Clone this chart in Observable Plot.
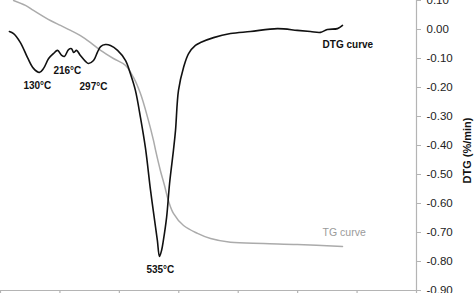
<!DOCTYPE html>
<html>
<head>
<meta charset="utf-8">
<script src="https://cdn.jsdelivr.net/npm/d3@7"></script>
<script src="https://cdn.jsdelivr.net/npm/@observablehq/plot@0.6"></script>
<style>
  html, body { margin: 0; padding: 0; background: #fff; }
  #chart svg { display: block; }
</style>
</head>
<body>
<div id="chart"></div>
<script>
// DTG curve: temperature (°C) and rate (%/min)
const dtgTemp = [30, 44, 67, 91, 111, 131, 145, 162, 178, 192, 205, 215, 229, 239, 246, 256, 269, 286, 296, 313, 326, 337, 353, 370, 394, 421, 437, 454, 471, 488, 505, 522, 528, 535, 542, 548, 559, 569, 582, 589, 599, 616, 633, 656, 673, 717, 774, 841, 932, 999, 1043, 1077, 1100, 1134, 1151];
const dtgVal  = [-0.007, -0.014, -0.045, -0.097, -0.134, -0.148, -0.134, -0.100, -0.083, -0.072, -0.088, -0.093, -0.069, -0.066, -0.079, -0.072, -0.090, -0.110, -0.117, -0.107, -0.079, -0.059, -0.052, -0.055, -0.072, -0.107, -0.152, -0.210, -0.303, -0.410, -0.555, -0.683, -0.728, -0.783, -0.762, -0.728, -0.648, -0.531, -0.417, -0.348, -0.210, -0.131, -0.083, -0.055, -0.045, -0.028, -0.014, -0.007, 0.003, -0.003, -0.007, -0.010, 0.000, 0.003, 0.014];

// TG curve: temperature (°C) and remaining mass (%)
const tgTemp = [44, 84, 111, 168, 202, 236, 269, 303, 337, 380, 421, 448, 471, 495, 515, 522, 538, 552, 565, 582, 616, 663, 707, 774, 885, 999, 1151];
const tgMass = [100, 98.3, 96.6, 93.1, 91.4, 89.7, 87.9, 85.5, 82.8, 80.0, 77.6, 73.4, 67.9, 59.7, 51.7, 48.3, 41.4, 36.2, 31.0, 26.6, 22.4, 19.7, 17.9, 16.6, 16.2, 15.9, 15.2];

// Peak annotations
const peakLabels = ["130°C", "216°C", "297°C", "535°C"];
const peakLabelTemp = [124, 225, 313, 538];
const peakLabelVal = [-0.193, -0.141, -0.197, -0.828];

// Curve labels
const curveLabels = ["DTG curve", "TG curve"];
const curveLabelTemp = [1084, 1084];
const curveLabelVal = [-0.052, -0.700];

const yTicks = [0.1, 0, -0.1, -0.2, -0.3, -0.4, -0.5, -0.6, -0.7, -0.8, -0.9];
const xTicks = [0, 200, 400, 600, 800, 1000, 1200, 1400];
const yLabel = "DTG (%/min)";

// TG (%) plotted against the hidden left axis, mapped onto the DTG frame
const tgToFrame = d3.scaleLinear().domain([0, 100]).range([-0.9, 0.1]);

const dtg = dtgTemp.map((t, i) => ({t, v: dtgVal[i]}));
const tg = tgTemp.map((t, i) => ({t, v: tgToFrame(tgMass[i])}));
const peaks = peakLabels.map((s, i) => ({s, t: peakLabelTemp[i], v: peakLabelVal[i]}));

const font = "'Liberation Sans', Arial, Helvetica, sans-serif";

const chart = Plot.plot({
  width: 474,
  height: 293,
  marginLeft: 0,
  marginRight: 58,
  marginTop: 0,
  marginBottom: 3,
  style: {fontFamily: font, background: "#fff", overflow: "visible"},
  x: {type: "linear", domain: [0, 1400]},
  y: {type: "linear", domain: [-0.9, 0.1]},
  marks: [
    Plot.ruleY([-0.9], {stroke: "#b4b4b4", strokeWidth: 1.2}),
    Plot.ruleX([1400], {stroke: "#b4b4b4", strokeWidth: 1.2}),
    Plot.axisX({ticks: xTicks, tickFormat: () => "", tickSize: 4, stroke: "#b4b4b4", strokeWidth: 1.2, label: null}),
    Plot.axisY({anchor: "right", ticks: yTicks, tickFormat: d => d.toFixed(2), tickSize: 4, tickPadding: 6, stroke: "#b4b4b4", fill: "#222", fontSize: 11.5, label: null}),
    Plot.line(tg, {x: "t", y: "v", stroke: "#ababab", strokeWidth: 1.5, curve: "catmull-rom"}),
    Plot.line(dtg, {x: "t", y: "v", stroke: "#111", strokeWidth: 1.6, curve: "catmull-rom"}),
    Plot.text(peaks, {x: "t", y: "v", text: "s", fontWeight: "bold", fontSize: 10, fill: "#111"}),
    Plot.text([curveLabels[0]], {x: curveLabelTemp[0], y: curveLabelVal[0], text: d => d, textAnchor: "start", fontWeight: "bold", fontSize: 10, fill: "#111"}),
    Plot.text([curveLabels[1]], {x: curveLabelTemp[1], y: curveLabelVal[1], text: d => d, textAnchor: "start", fontSize: 10.5, fill: "#9a9a9a"}),
    Plot.text([yLabel], {frameAnchor: "right", textAnchor: "middle", dx: 51, dy: 5, rotate: -90, text: d => d, fontWeight: "bold", fontSize: 11, fill: "#111"})
  ]
});

document.getElementById("chart").appendChild(chart);
</script>
</body>
</html>
